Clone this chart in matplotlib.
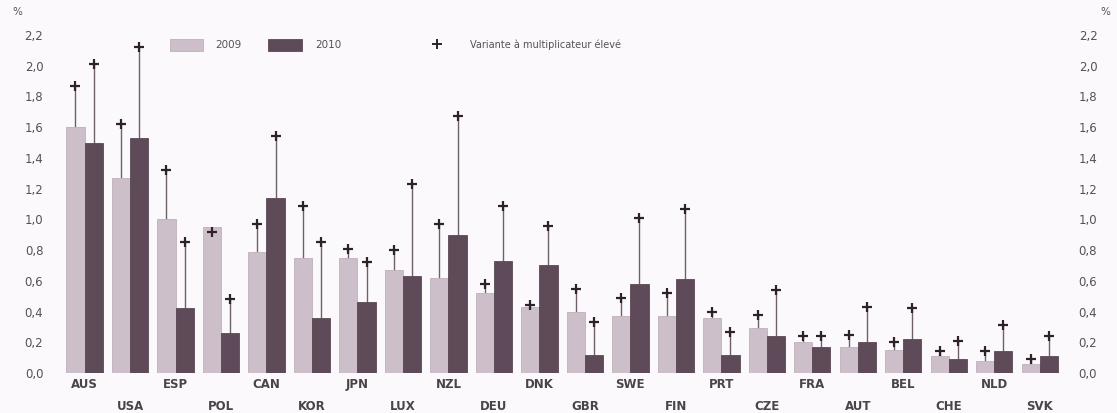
import numpy as np
import matplotlib
matplotlib.use('Agg')
import matplotlib.pyplot as plt
from matplotlib.patches import Rectangle

# Data (%)

countries = ['AUS', 'USA', 'ESP', 'POL', 'CAN', 'KOR', 'JPN', 'LUX', 'NZL', 'DEU', 'DNK',
             'GBR', 'SWE', 'FIN', 'PRT', 'CZE', 'FRA', 'AUT', 'BEL', 'CHE', 'NLD', 'SVK']
v2009 = [1.60, 1.27, 1.00, 0.95, 0.79, 0.75, 0.75, 0.67, 0.62, 0.52, 0.43,
         0.40, 0.37, 0.37, 0.36, 0.29, 0.20, 0.17, 0.15, 0.11, 0.08, 0.06]
v2010 = [1.50, 1.53, 0.42, 0.26, 1.14, 0.36, 0.46, 0.63, 0.90, 0.73, 0.70,
         0.12, 0.58, 0.61, 0.12, 0.24, 0.17, 0.20, 0.22, 0.09, 0.14, 0.11]
high2009 = [1.87, 1.62, 1.32, 0.92, 0.97, 1.09, 0.81, 0.80, 0.97, 0.58, 0.44,
            0.55, 0.49, 0.52, 0.40, 0.38, 0.24, 0.25, 0.20, 0.14, 0.14, 0.09]
high2010 = [2.01, 2.12, 0.85, 0.48, 1.54, 0.85, 0.72, 1.23, 1.67, 1.09, 0.96,
            0.33, 1.01, 1.07, 0.27, 0.54, 0.24, 0.43, 0.42, 0.21, 0.31, 0.24]
yticks = [0.0, 0.2, 0.4, 0.6, 0.8, 1.0, 1.2, 1.4, 1.6, 1.8, 2.0, 2.2]

c09 = '#cdbfc9'
c10 = '#5e4a58'
bg = '#fcf9fc'
txt = '#555055'

W, H = 1117, 413
fig = plt.figure(figsize=(W / 100, H / 100), dpi=100, facecolor=bg)
ax = fig.add_axes([60 / W, (H - 373) / H, (1062 - 60) / W, (373 - 35) / H])
ax.set_facecolor(bg)

x = np.arange(len(countries))
w = 0.4
ax.bar(x - w / 2, v2009, w, color=c09, edgecolor='#b8a8b4', linewidth=0.5, zorder=2)
ax.bar(x + w / 2, v2010, w, color=c10, edgecolor='#4a3845', linewidth=0.5, zorder=2)

# "high multiplier" variant: thin line from bar top to a + marker
for xs, v, h in [(x - w / 2, v2009, high2009), (x + w / 2, v2010, high2010)]:
    ax.vlines(xs, v, h, color='#6e6068', lw=1.0, zorder=1)
    ax.plot(xs, h, '+', color='#2e2229', ms=7.5, mew=1.6, zorder=3)

ax.set_xlim(-0.54, 21.49)
ax.set_ylim(0, 2.2)
ax.set_yticks(yticks)
ax.set_yticklabels([f'{t:.1f}'.replace('.', ',') for t in yticks])
ax.tick_params(axis='y', length=0, pad=12, labelsize=8.5, labelcolor=txt,
               labelleft=True, labelright=True)
ax.set_xticks([])
for s in ax.spines.values():
    s.set_visible(False)

# staggered country labels
for i, c in enumerate(countries):
    off = -8.6 if i % 2 == 0 else -24.3
    ax.annotate(c, (i, 0), xycoords=('data', 'axes fraction'), xytext=(0, off),
                textcoords='offset points', ha='center', va='center',
                fontsize=8.5, fontweight='bold', color='#4a444a')

# % markers on both sides
fig.text(12 / W, 1 - 12 / H, '%', fontsize=7.5, color=txt, va='center')
fig.text(1100 / W, 1 - 12 / H, '%', fontsize=7.5, color=txt, va='center')

# legend drawn by hand to follow the scan layout
ly = 1 - 45 / H
fig.patches.append(Rectangle((170 / W, ly - 6 / H), 33 / W, 12 / H, transform=fig.transFigure,
                             facecolor=c09, edgecolor='#b8a8b4', lw=0.5))
fig.text(215 / W, ly, '2009', fontsize=7.5, color=txt, va='center')
fig.patches.append(Rectangle((268 / W, ly - 6 / H), 34 / W, 12 / H, transform=fig.transFigure,
                             facecolor=c10, edgecolor='#4a3845', lw=0.5))
fig.text(315 / W, ly, '2010', fontsize=7.5, color=txt, va='center')
fig.lines.append(plt.Line2D([437 / W], [ly + 1 / H], marker='+', ms=7, mew=1.4,
                            color='#2e2229', transform=fig.transFigure))
fig.text(470 / W, ly, 'Variante à multiplicateur élevé', fontsize=7, color=txt, va='center')

plt.savefig('out.png', dpi=100, facecolor=bg)
